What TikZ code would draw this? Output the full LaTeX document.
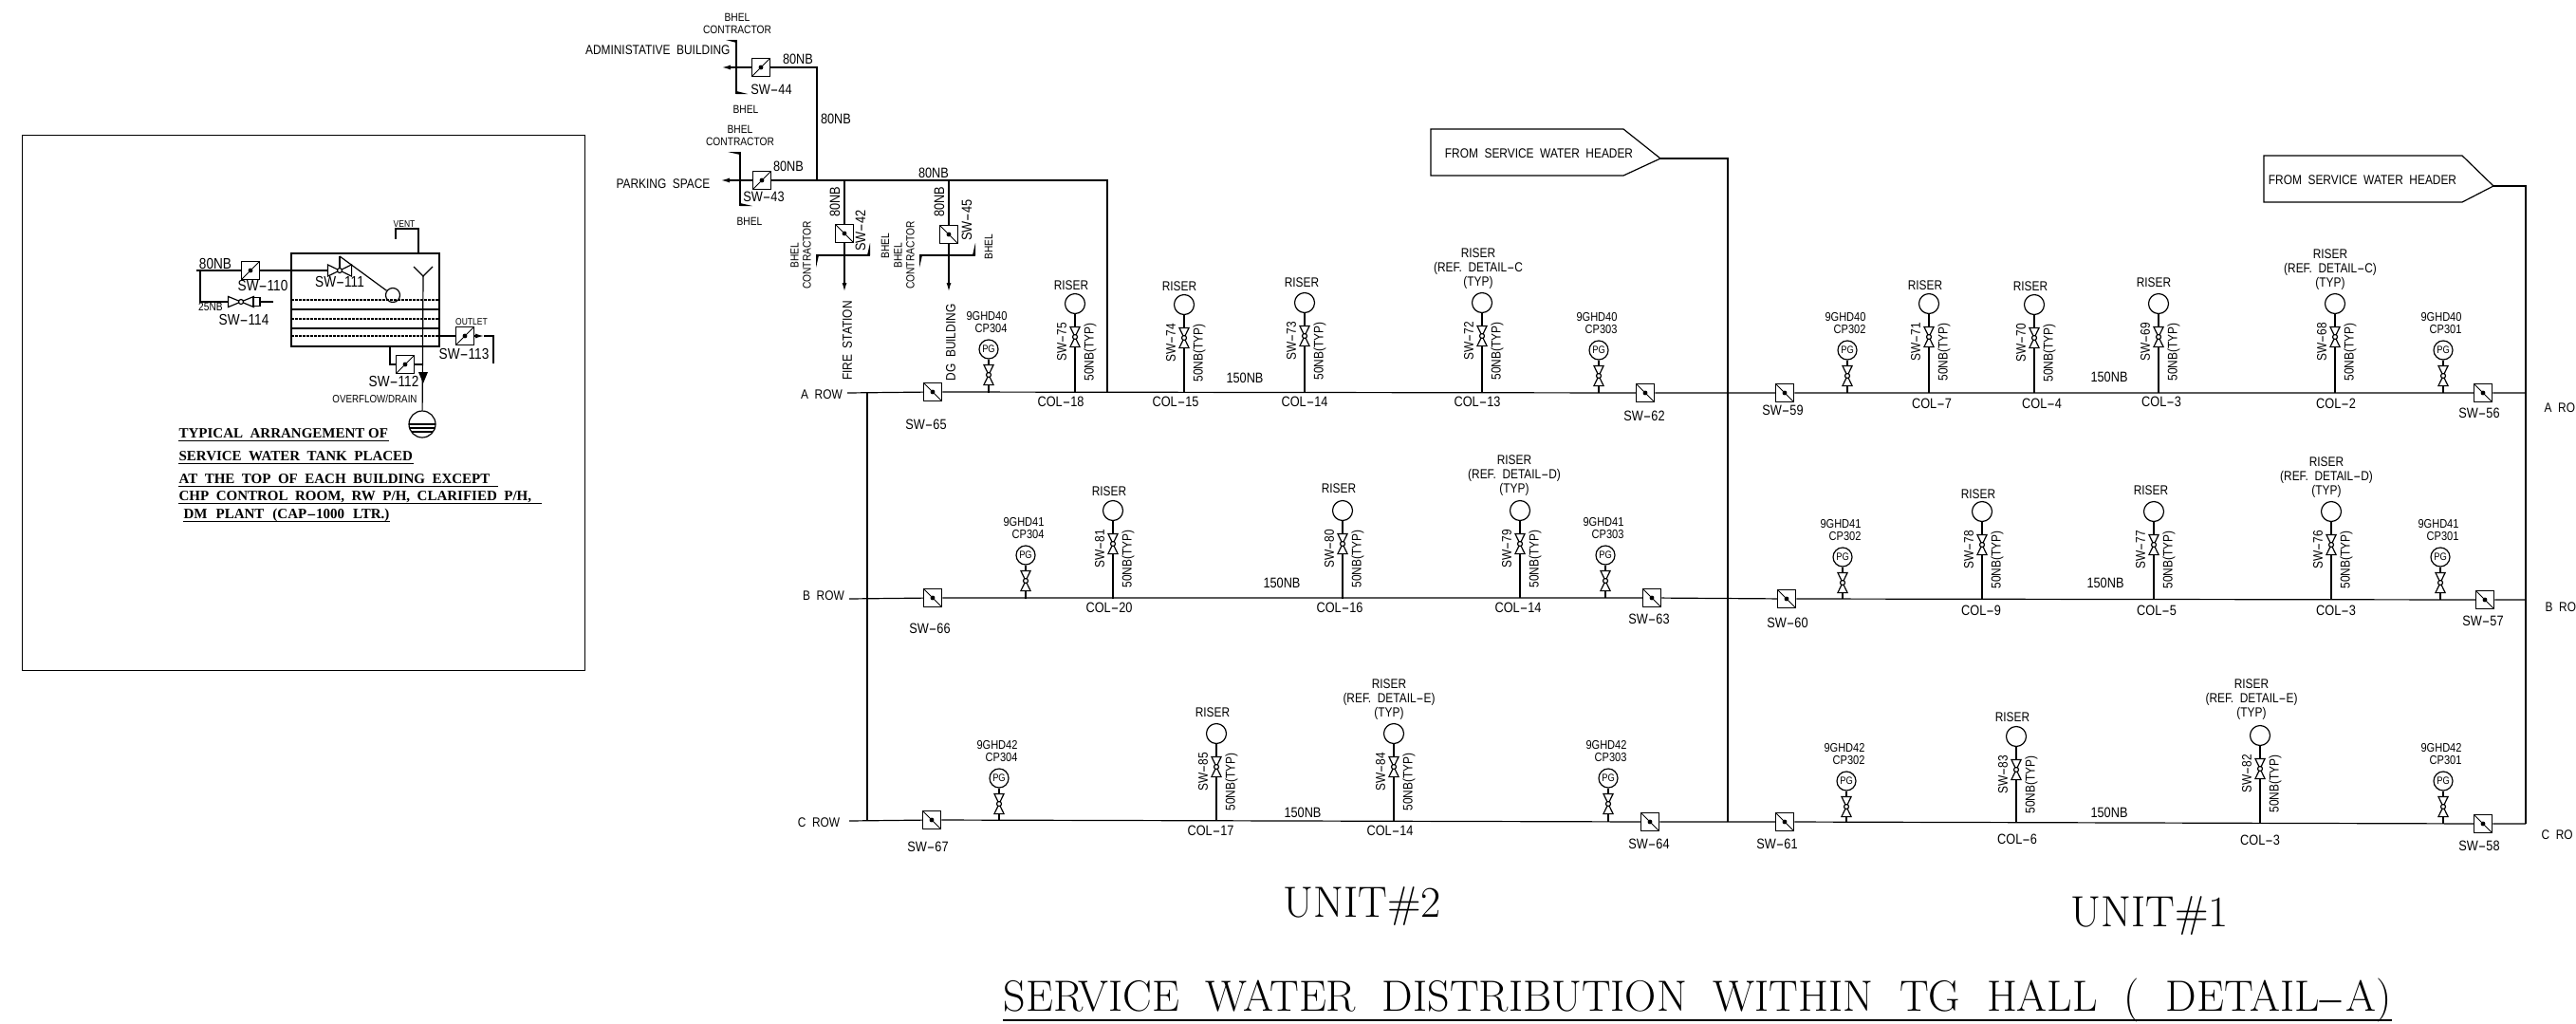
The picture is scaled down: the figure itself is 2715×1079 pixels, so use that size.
\documentclass[tikz,border=0pt]{standalone}
\usepackage{graphicx}
\usepackage{fontspec}
\setsansfont[FakeStretch=0.85]{Liberation Sans}
\newfontfamily\capfont{Liberation Serif}
\newcommand{\dsh}{\scalebox{2}[1]{-}}
\usetikzlibrary{shapes, arrows, arrows.meta}

\begin{document}
\begin{tikzpicture}[>={Latex[length=9pt,width=5pt]}, x=1pt, y=-1pt]

\tikzstyle{lbl} = [font=\sffamily\fontsize{14}{15}\selectfont, inner sep=0pt]
\tikzstyle{lblm} = [font=\sffamily\fontsize{15}{15}\selectfont, inner sep=0pt]
\tikzstyle{lbls} = [font=\sffamily\fontsize{12}{13}\selectfont, inner sep=0pt]
\tikzstyle{lblg} = [font=\sffamily\fontsize{13}{13}\selectfont, inner sep=0pt]
\tikzstyle{lblt} = [font=\sffamily\fontsize{16}{18}\selectfont, inner sep=0pt]
\tikzstyle{lblv} = [font=\sffamily\fontsize{10}{12}\selectfont, inner sep=0pt]
\tikzstyle{capline} = [font=\capfont\bfseries\fontsize{15}{16}\selectfont, anchor=base west, inner sep=0pt, text depth=2.5pt]
\tikzstyle{unit} = [font=\rmfamily\fontsize{46}{48}\selectfont, anchor=base west, inner sep=0pt]
\tikzstyle{swa} = [draw, shape=rectangle, minimum size=19pt, inner sep=0pt, line width=1.5pt, path picture={\draw[line width=1pt] (path picture bounding box.south west) -- (path picture bounding box.north east); \fill (path picture bounding box.center) circle (2.4pt);}]
\tikzstyle{swb} = [draw, shape=rectangle, minimum size=19pt, inner sep=0pt, line width=1.5pt, path picture={\draw[line width=1pt] (path picture bounding box.north west) -- (path picture bounding box.south east); \fill (path picture bounding box.center) circle (2.4pt);}]
\tikzstyle{bowv} = [shape=rectangle, minimum width=9pt, minimum height=20pt, inner sep=0pt]
\tikzstyle{bowh} = [shape=rectangle, minimum width=24pt, minimum height=11pt, inner sep=0pt]
\tikzstyle{knob} = [draw, fill=white, shape=circle, minimum size=5pt, inner sep=0pt]
\tikzstyle{riser} = [draw, shape=circle, minimum size=21pt, inner sep=0pt]
\tikzstyle{gauge} = [draw, shape=circle, minimum size=20pt, inner sep=0pt, font=\sffamily\fontsize{11}{12}\selectfont]

\useasboundingbox (0,0) rectangle (2715,1079);

\begin{scope}[line width=1.2pt]

\node [draw, minimum width=593pt, minimum height=564pt, anchor=north west, inner sep=0pt] at (23,142) (frame) {};

\draw (307,267) rectangle (463,365);
\draw[dash pattern=on 3pt off 1pt] (307,316) -- (463,316);
\draw (307,326) -- (463,326);
\draw[dash pattern=on 3pt off 1pt] (307,336) -- (463,336);
\draw (307,346) -- (463,346);
\draw[dash pattern=on 3pt off 1pt] (307,354) -- (463,354);

\coordinate (in80) at (207,285);
\coordinate (in25) at (211,285);
\coordinate (el25) at (211,318);
\coordinate (end25) at (288,318);
\node [swa] at (264,285) (sw110) {};
\node [bowh] at (358,285) (sw111) {};
\draw[fill=white] (sw111.north west) -- (sw111.south west) -- (sw111.north east) -- (sw111.south east) -- cycle;
\node [knob] at (358,285) (knob111) {};
\node [riser, minimum size=15pt] at (414,311) (ball) {};
\coordinate (armtop) at (358,270);
\draw (armtop) -- (ball);
\draw (armtop) -- (knob111);
\draw (in80) -- (sw110);
\draw (sw110) -- (sw111);
\draw (in25) -- (el25) -- (end25);
\node [bowh, minimum width=26pt, minimum height=10pt] at (254,318) (sw114) {};
\draw[fill=white] (sw114.north west) -- (sw114.south west) -- (sw114.north east) -- (sw114.south east) -- cycle;
\node [knob] at (254,318) (knob114) {};
\node [draw, fill=white, minimum width=7pt, minimum height=9pt, inner sep=0pt] at (270.5,318) (cap114) {};

\coordinate (venta) at (441,267);
\coordinate (ventb) at (441,241);
\coordinate (ventc) at (417,241);
\coordinate (ventd) at (417,252);
\draw (venta) -- (ventb) -- (ventc) -- (ventd);

\coordinate (funl) at (436,281);
\coordinate (funm) at (446,291);
\coordinate (funr) at (456,281);
\node [riser, minimum size=28pt] at (445,447) (pit) {};
\draw (funl) -- (funm) -- (funr);
\draw (funm) -- (pit);
\fill (441,392) -- (451,392) -- (446,404) -- cycle;
\draw (431,447) -- (459,447);
\draw (432.3,451) -- (457.7,451);
\draw (434,455) -- (456,455);

\coordinate (outa) at (463,354);
\coordinate (outb) at (510,354);
\coordinate (outc) at (520,354);
\coordinate (outd) at (520,383);
\node [swa] at (490,354) (sw113) {};
\draw (outa) -- (sw113);
\draw[->] (sw113) -- (outb);
\draw (outb) -- (outc) -- (outd);

\coordinate (dra) at (411,365);
\coordinate (drb) at (411,384);
\coordinate (drc) at (446,384);
\node [swa] at (427,384) (sw112) {};
\draw (dra) -- (drb) -- (sw112);
\draw (sw112) -- (drc);

\node [lblt] at (227,278) (t80) {80NB};
\node [lblt] at (277,301) (t110) {SW\dsh 110};
\node [lblt] at (358,297) (t111) {SW\dsh 111};
\node [lbls] at (222,323) (t25) {25NB};
\node [lblt] at (257,337) (t114) {SW\dsh 114};
\node [lblv] at (426,236) (tvent) {VENT};
\node [lblv] at (497,339) (toutlet) {OUTLET};
\node [lblt] at (489,373) (t113) {SW\dsh 113};
\node [lblt] at (415,402) (t112) {SW\dsh 112};
\node [lbls, font=\sffamily\fontsize{11.5}{13}\selectfont] at (395,420) (toverflow) {OVERFLOW/DRAIN};

\node [capline] at (188,461) (capa) {TYPICAL\ \ ARRANGEMENT\ OF};
\node [capline] at (188,485) (capb) {SERVICE\ \ WATER\ \ TANK\ \ PLACED};
\node [capline] at (188,509) (capc) {AT\ \ THE\ \ TOP\ \ OF\ \ EACH\ \ BUILDING\ \ EXCEPT};
\node [capline] at (188,527) (capd) {CHP\ \ CONTROL\ \ ROOM,\ \ RW\ \ P/H,\ \ CLARIFIED\ \ P/H,};
\node [capline] at (193,546) (cape) {DM\hspace{9pt}PLANT\hspace{9pt}(CAP\dsh 1000\hspace{9pt}LTR.)};
\draw (capa.south west) -- (capa.south east);
\draw (capb.south west) -- (capb.south east);
\draw (capc.south west) -- ([xshift=8pt]capc.south east);
\draw (capd.south west) -- ([xshift=10pt]capd.south east);
\draw (cape.south west) -- (cape.south east);

\node [swa] at (802,71) (sw44) {};
\node [swa] at (803,190) (sw43) {};
\node [swb] at (890,246) (sw42) {};
\node [swb] at (1000,247) (sw45) {};
\coordinate (tip44) at (761,71);
\coordinate (tip43) at (760,190);
\coordinate (tip42) at (890,307);
\coordinate (tip45) at (1000,307);
\coordinate (el44) at (861,71);
\coordinate (ja) at (861,190);
\coordinate (jb) at (890,190);
\coordinate (jc) at (1000,190);
\coordinate (jd) at (1167,190);
\coordinate (je) at (1167,414);
\draw[->] (sw44) -- (tip44);
\draw[->] (sw43) -- (tip43);
\draw (sw44) -- (el44) -- (ja);
\draw (sw43) -- (ja) -- (jb) -- (jc) -- (jd) -- (je);
\draw (jb) -- (sw42);
\draw (jc) -- (sw45);
\draw[->] (sw42) -- (tip42);
\draw[->] (sw45) -- (tip45);

\draw (776,42) -- (776,99);
\fill (776,42) -- (765,42) -- (776,45) -- cycle;
\fill (776,99) -- (788,99) -- (776,96) -- cycle;
\draw (780,160) -- (780,217);
\fill (780,160) -- (767,160) -- (780,163) -- cycle;
\fill (780,217) -- (793,217) -- (780,214) -- cycle;
\draw (860,269) -- (917,269);
\fill (860,269) -- (860,282) -- (863,269) -- cycle;
\fill (917,269) -- (917,256) -- (914,269) -- cycle;
\draw (969,269) -- (1028,269);
\fill (969,269) -- (969,282) -- (972,269) -- cycle;
\fill (1028,269) -- (1028,256) -- (1025,269) -- cycle;

\node [lbls, align=center] at (777,25) (bc44) {BHEL\\CONTRACTOR};
\node [lbl, anchor=east] at (770,53) (tadmin) {ADMINISTATIVE\ \ BUILDING};
\node [lblm] at (841,62) (n44) {80NB};
\node [lblm] at (813,94) (t44) {SW\dsh 44};
\node [lbls] at (786,115) (b44) {BHEL};
\node [lblm] at (881,125) (n44v) {80NB};
\node [lbls, align=center] at (780,143) (bc43) {BHEL\\CONTRACTOR};
\node [lbl] at (699,194) (tpark) {PARKING\ \ SPACE};
\node [lblm] at (831,175) (n43) {80NB};
\node [lblm] at (805,207) (t43) {SW\dsh 43};
\node [lbls] at (790,233) (b43) {BHEL};
\node [lblm] at (984,182) (n80) {80NB};
\node [lblm, rotate=90] at (880,213) (n42) {80NB};
\node [lblm, rotate=90] at (907,243) (t42) {SW\dsh 42};
\node [lbls, rotate=90, align=center] at (844,269) (bc42) {BHEL\\CONTRACTOR};
\node [lbls, rotate=90] at (933,259) (b42) {BHEL};
\node [lbl, rotate=90] at (893,359) (tfire) {FIRE\ \ STATION};
\node [lblm, rotate=90] at (990,213) (n45) {80NB};
\node [lblm, rotate=90] at (1019,232) (t45) {SW\dsh 45};
\node [lbls, rotate=90, align=center] at (953,269) (bc45) {BHEL\\CONTRACTOR};
\node [lbls, rotate=90] at (1042,260) (b45) {BHEL};
\node [lbl, rotate=90] at (1002,361) (tdg) {DG\ \ BUILDING};

\foreach \sw/\xs/\ys/\lx/\ly in {65/983/413/976/447, 62/1734/414/1733/438, 59/1881/414/1879/432, 56/2617/414/2613/435, 66/983/630/980/662, 63/1741/630/1738/652, 60/1883/631/1884/656, 57/2619/632/2617/654, 67/982/864/978/892, 64/1739/866/1738/889, 61/1881/866/1873/889, 58/2617/868/2613/891}
{
	\node [swb] at (\xs,\ys) (sw\sw) {};
	\node [lblm] at (\lx,\ly) (t\sw) {SW\dsh\sw};
}

\coordinate (arowl) at (893,414);
\coordinate (arowr) at (2662,414);
\coordinate (brl) at (895,631);
\coordinate (brr) at (2662,632);
\coordinate (crl) at (895,865);
\coordinate (crr) at (2662,868);
\draw (arowl) -- (sw65) -- (sw62) -- (sw59) -- (sw56) -- (arowr);
\draw (brl) -- (sw66) -- (sw63) -- (sw60) -- (sw57) -- (brr);
\draw (crl) -- (sw67) -- (sw64) -- (sw61) -- (sw58) -- (crr);

\coordinate (vla) at (914,414);
\coordinate (vlc) at (914,865);
\draw (vla) -- (vlc);

\coordinate (tipu) at (1750,167);
\coordinate (elu) at (1821,167);
\coordinate (endu) at (1821,866);
\draw (1508,136) -- (1711,136) -- (tipu) -- (1711,185) -- (1508,185) -- cycle;
\draw (tipu) -- (elu) -- (endu);
\node [lbl] at (1622,162) (hdru) {FROM\ \ SERVICE\ \ WATER\ \ HEADER};

\coordinate (tipv) at (2628,196);
\coordinate (elv) at (2662,196);
\coordinate (endv) at (2662,868);
\draw (2386,164) -- (2595,164) -- (tipv) -- (2595,213) -- (2386,213) -- cycle;
\draw (tipv) -- (elv) -- (endv);
\node [lbl] at (2490,190) (hdrv) {FROM\ \ SERVICE\ \ WATER\ \ HEADER};

\node [lbl] at (866,416) (arow) {A\ \ ROW};
\node [lbl] at (868,628) (brow) {B\ \ ROW};
\node [lbl] at (863,867) (crow) {C\ \ ROW};
\node [lbl, anchor=west] at (2681,430) (arowb) {A\ \ RO};
\node [lbl, anchor=west] at (2682,640) (browb) {B\ \ RO};
\node [lbl, anchor=west] at (2678,880) (crowb) {C\ \ RO};

\node [lblm] at (1312,398) (nba) {150NB};
\node [lblm] at (2223,397) (nbb) {150NB};
\node [lblm] at (1351,614) (nbc) {150NB};
\node [lblm] at (2219,614) (nbd) {150NB};
\node [lblm] at (1373,856) (nbe) {150NB};
\node [lblm] at (2223,856) (nbf) {150NB};

\foreach \sw/\xs/\yc/\yr/\cx/\cy/\col/\rx/\ry/\rtxt in {
	75/1133/320/414/1118/423/18/1129/301/RISER,
	74/1248/321/414/1239/423/15/1243/302/RISER,
	73/1375/319/414/1375/423/14/1372/298/RISER,
	72/1562/319/414/1557/423/13/1558/283/{RISER\\(REF.\ \ DETAIL\dsh C\\(TYP)},
	71/2033/320/414/2036/425/7/2029/301/RISER,
	70/2144/321/414/2152/425/4/2140/302/RISER,
	69/2275/320/414/2278/423/3/2270/298/RISER,
	68/2461/320/414/2462/425/2/2456/284/{RISER\\(REF.\ \ DETAIL\dsh C)\\(TYP)},
	81/1173/538/631/1169/640/20/1169/518/RISER,
	80/1415/538/631/1412/640/16/1411/515/RISER,
	79/1602/538/630/1600/640/14/1596/501/{RISER\\(REF.\ \ DETAIL\dsh D)\\(TYP)},
	78/2089/539/631/2088/643/9/2085/521/RISER,
	77/2270/539/631/2273/643/5/2267/517/RISER,
	76/2457/539/632/2462/643/3/2452/503/{RISER\\(REF.\ \ DETAIL\dsh D)\\(TYP)},
	85/1282/773/865/1276/875/17/1278/751/RISER,
	84/1469/773/865/1465/875/14/1464/737/{RISER\\(REF.\ \ DETAIL\dsh E)\\(TYP)},
	83/2125/776/866/2126/884/6/2121/756/RISER,
	82/2382/775/867/2382/885/3/2373/737/{RISER\\(REF.\ \ DETAIL\dsh E)\\(TYP)}}
{
	\node [riser] at (\xs,\yc) (riser\sw) {};
	\node [bowv] at (\xs,\yc+35) (v\sw) {};
	\draw (v\sw.north west) -- (v\sw.north east) -- (v\sw.south west) -- (v\sw.south east) -- cycle;
	\node [knob] at (\xs,\yc+35) (k\sw) {};
	\coordinate (c\sw) at (\xs,\yr);
	\draw (riser\sw) -- (v\sw) -- (c\sw);
	\node [lbl, align=center] at (\rx,\ry) (r\sw) {\rtxt};
	\node [lbl, rotate=90] at (\xs-14,\yc+40) (t\sw) {SW\dsh\sw};
	\node [lbl, rotate=90] at (\xs+16,\yc+51) (nb\sw) {50NB(TYP)};
	\node [lblm] at (\cx,\cy) (col\sw) {COL\dsh\col};
}

\foreach \hd/\cp/\xs/\yp/\yr in {40/304/1042/368/414, 40/303/1685/369/414, 40/302/1947/369/414, 40/301/2575/369/414, 41/304/1081/585/631, 41/303/1692/585/630, 41/302/1942/587/631, 41/301/2572/587/632, 42/304/1053/820/865, 42/303/1695/820/866, 42/302/1946/823/866, 42/301/2575/823/868}
{
	\node [gauge] at (\xs,\yp) (pg\hd\cp) {PG};
	\node [bowv] at (\xs,\yp+27) (v\hd\cp) {};
	\draw (v\hd\cp.north west) -- (v\hd\cp.north east) -- (v\hd\cp.south west) -- (v\hd\cp.south east) -- cycle;
	\node [knob] at (\xs,\yp+27) (k\hd\cp) {};
	\coordinate (c\hd\cp) at (\xs,\yr);
	\draw (pg\hd\cp) -- (v\hd\cp) -- (c\hd\cp);
	\node [lblg, align=right] at (\xs-2,\yp-28) (tag\hd\cp) {9GHD\hd\\CP\cp};
}

\node [unit] at (1352,966) (unitb) {UNIT\#2};
\node [unit] at (2182,976) (unita) {UNIT\#1};
\node [unit, text depth=9pt] at (1057,1065) (ttl) {SERVICE\ \ WATER\ \ DISTRIBUTION\ \ WITHIN\ \ TG\ \ HALL\ \ (\ \ DETAIL\dsh A)};
\draw[line width=2pt] (ttl.south west) -- (ttl.south east);

\end{scope}
\end{tikzpicture}
\end{document}
